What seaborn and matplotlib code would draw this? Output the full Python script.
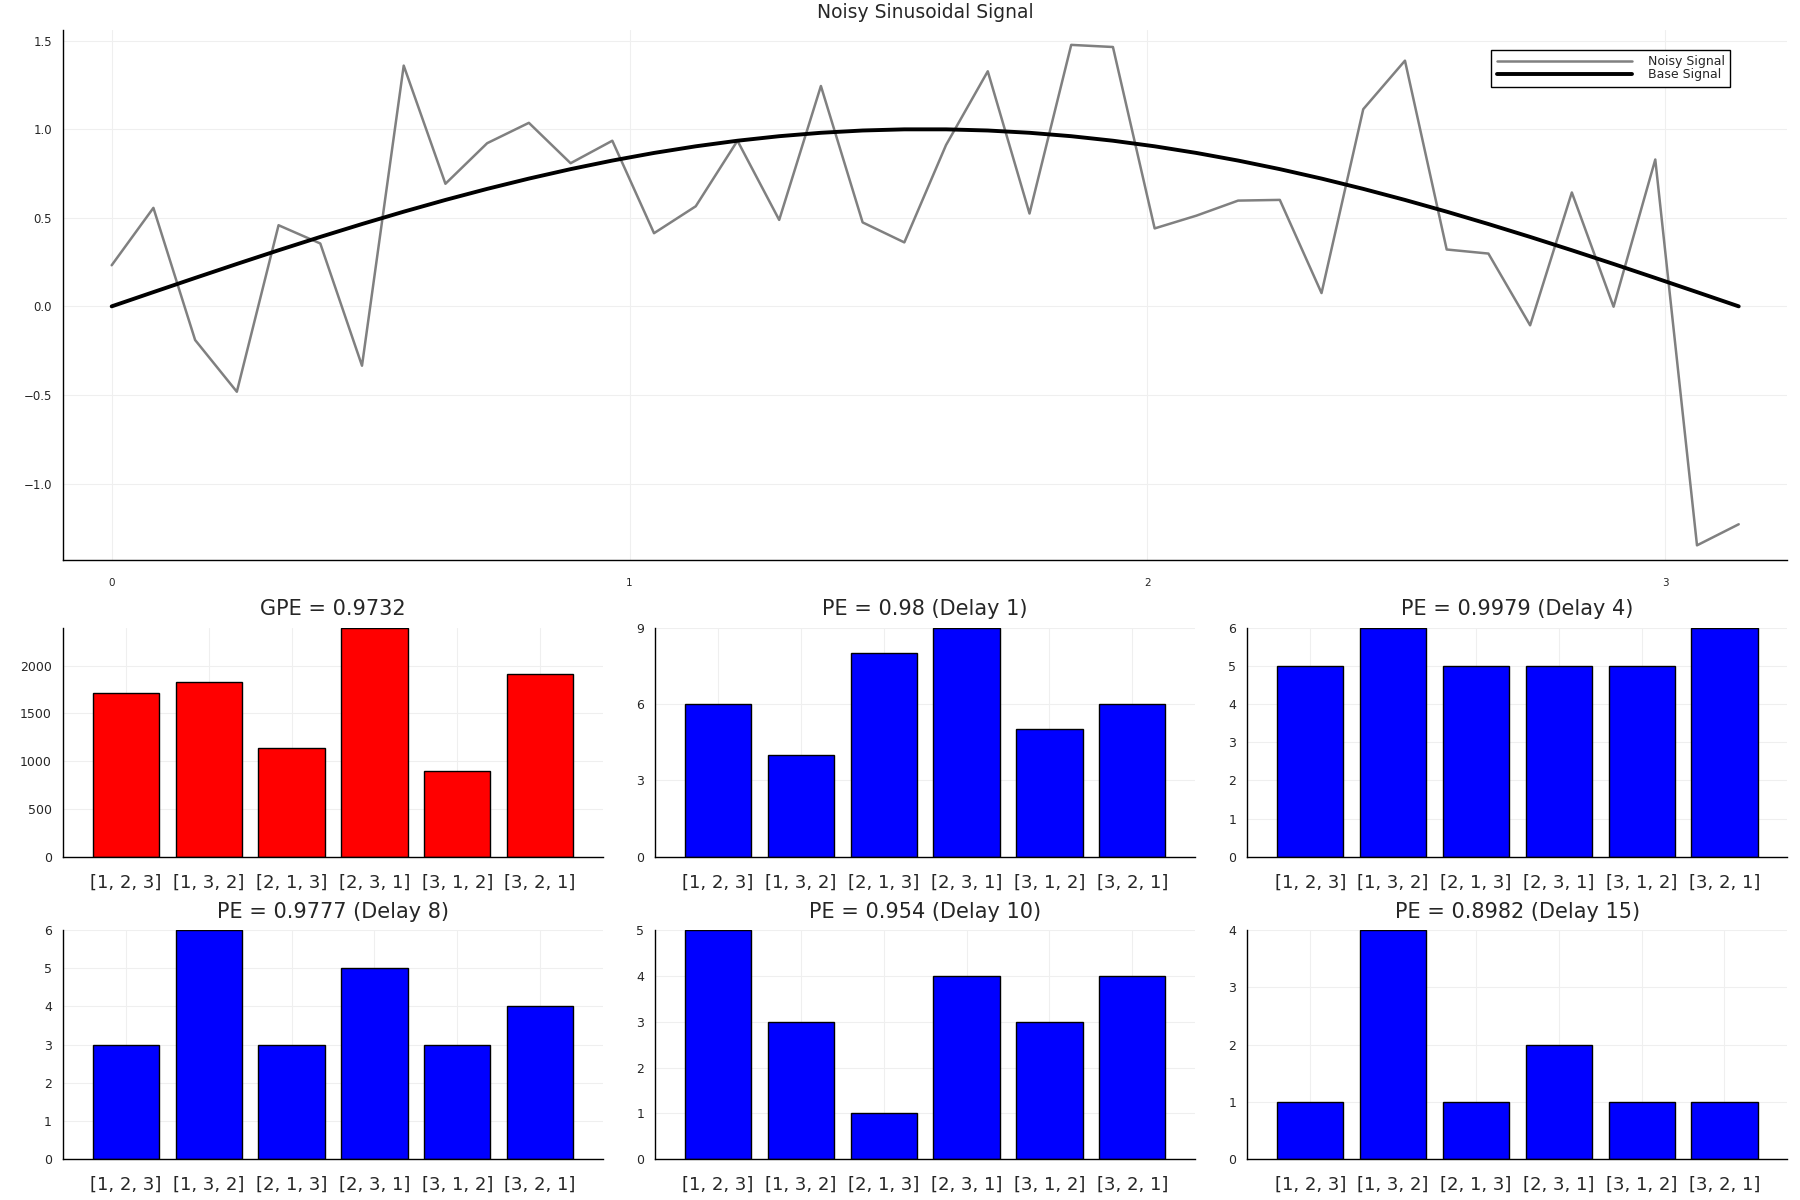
import numpy as np
import pandas as pd
import matplotlib
matplotlib.use('Agg')
import matplotlib.pyplot as plt
import seaborn as sns

sns.set_style('white')
plt.rcParams['font.family'] = ['DejaVu Sans']

# sinal ruidoso (40 pontos entre 0 e pi)
t = np.linspace(0, np.pi, 40)
noisy = [0.232, 0.556, -0.190, -0.482, 0.458, 0.355, -0.335, 1.359, 0.692, 0.921,
         1.036, 0.808, 0.935, 0.413, 0.565, 0.935, 0.488, 1.244, 0.474, 0.361,
         0.911, 1.327, 0.524, 1.476, 1.464, 0.440, 0.512, 0.597, 0.601, 0.075,
         1.113, 1.387, 0.321, 0.298, -0.107, 0.643, -0.002, 0.829, -1.349, -1.230]
base = np.sin(t)

# padroes ordinais
patterns = ['[1, 2, 3]', '[1, 3, 2]', '[2, 1, 3]', '[2, 3, 1]', '[3, 1, 2]', '[3, 2, 1]']
gpe_counts = [1715, 1826, 1137, 2397, 894, 1913]
pe_d1 = [6, 4, 8, 9, 5, 6]
pe_d4 = [5, 6, 5, 5, 5, 6]
pe_d8 = [3, 6, 3, 5, 3, 4]
pe_d10 = [5, 3, 1, 4, 3, 4]
pe_d15 = [1, 4, 1, 2, 1, 1]

titles = ['GPE = 0.9732', 'PE = 0.98 (Delay 1)', 'PE = 0.9979 (Delay 4)',
          'PE = 0.9777 (Delay 8)', 'PE = 0.954 (Delay 10)', 'PE = 0.8982 (Delay 15)']
yticks = [[0, 500, 1000, 1500, 2000], [0, 3, 6, 9], [0, 1, 2, 3, 4, 5, 6],
          [0, 1, 2, 3, 4, 5, 6], [0, 1, 2, 3, 4, 5], [0, 1, 2, 3, 4]]

grid_kw = dict(color='#efefef', linewidth=0.8)


def estilo(ax):
    for s in ['top', 'right']:
        ax.spines[s].set_visible(False)
    for s in ['left', 'bottom']:
        ax.spines[s].set_color('black')
        ax.spines[s].set_linewidth(1.0)
    ax.grid(True, **grid_kw)
    ax.set_axisbelow(True)
    ax.set_xlabel('')
    ax.set_ylabel('')


fig = plt.figure(figsize=(18, 12), dpi=100)

# grafico de linhas
ax0 = fig.add_axes([0.035, 0.533, 0.958, 0.442])
df_sig = pd.DataFrame({'t': t, 'Noisy Signal': noisy, 'Base Signal': base})
sns.lineplot(data=df_sig, x='t', y='Noisy Signal', ax=ax0, color='gray', linewidth=1.8, label='Noisy Signal')
sns.lineplot(data=df_sig, x='t', y='Base Signal', ax=ax0, color='black', linewidth=2.8, label='Base Signal')
estilo(ax0)
ax0.set_xlim(-0.094, np.pi + 0.094)
ax0.set_ylim(-1.434, 1.56)
ax0.set_xticks([0, 1, 2, 3])
ax0.set_yticks([-1.0, -0.5, 0.0, 0.5, 1.0, 1.5])
ax0.set_yticklabels(['\u22121.0', '\u22120.5', '0.0', '0.5', '1.0', '1.5'])
ax0.tick_params(axis='x', direction='in', length=4, labelsize=7.5, pad=13)
ax0.tick_params(axis='y', direction='in', length=4, labelsize=8.5, pad=8)
ax0.set_title('Noisy Sinusoidal Signal', fontsize=13.5, pad=9)
leg = ax0.legend(loc='upper right', bbox_to_anchor=(0.967, 0.963), fontsize=9,
                 handlelength=10.8, fancybox=False, edgecolor='black', framealpha=1,
                 labelspacing=0.0, borderpad=0.45, borderaxespad=0, handletextpad=1.3)
leg.get_frame().set_linewidth(1.0)

# histogramas dos padroes
series = [gpe_counts, pe_d1, pe_d4, pe_d8, pe_d10, pe_d15]
cores = ['red', 'blue', 'blue', 'blue', 'blue', 'blue']
lefts = [0.035, 0.364, 0.693]
bottoms = [0.286, 0.034]
for i, vals in enumerate(series):
    r, c = divmod(i, 3)
    ax = fig.add_axes([lefts[c], bottoms[r], 0.300, 0.191])
    sns.barplot(x=patterns, y=vals, ax=ax, color=cores[i], saturation=1,
                edgecolor='black', linewidth=1.0, width=0.8)
    estilo(ax)
    ax.set_xlim(-0.76, 5.76)
    ax.set_ylim(0, max(vals))
    ax.set_yticks(yticks[i])
    ax.tick_params(axis='x', length=0, labelsize=13, pad=12)
    ax.tick_params(axis='y', direction='in', length=4, labelsize=9, pad=8)
    ax.set_title(titles[i], fontsize=15, pad=9)

plt.savefig('out.png', dpi=100)
